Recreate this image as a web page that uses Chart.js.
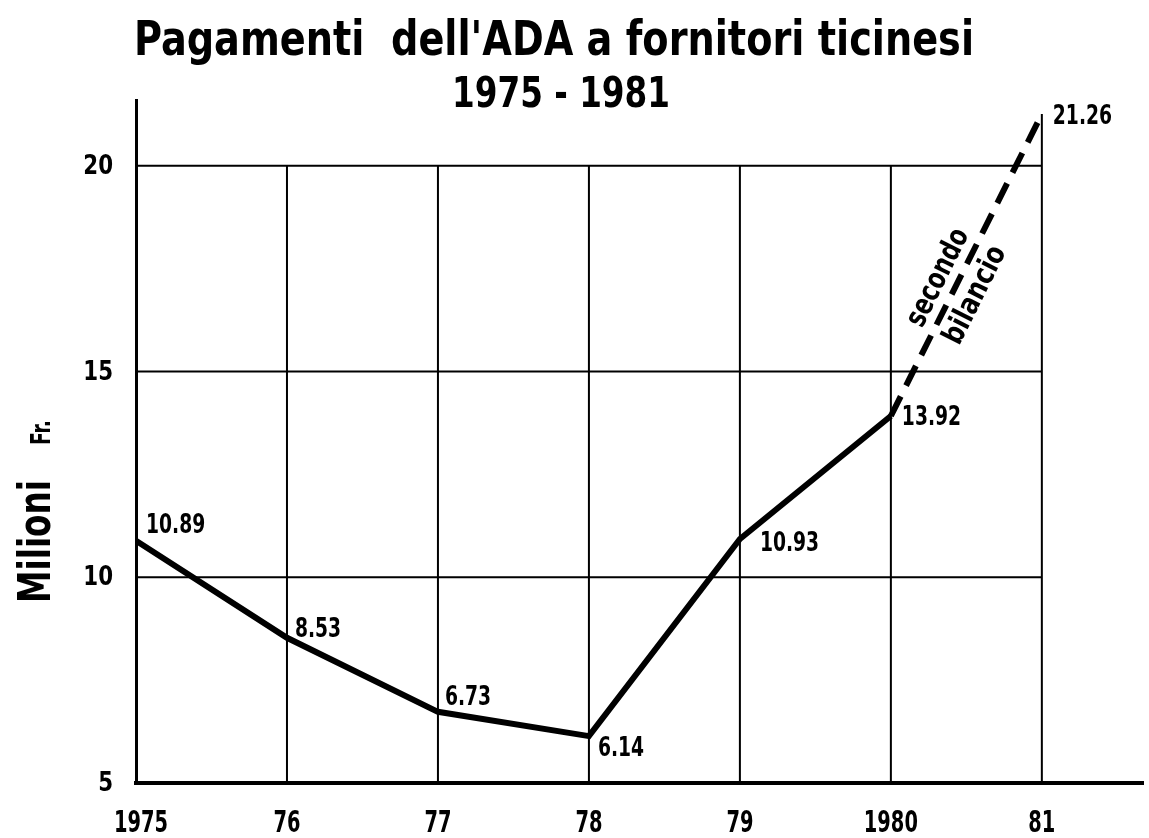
<!DOCTYPE html>
<html>
<head>
<meta charset="utf-8">
<script src="https://cdn.jsdelivr.net/npm/chart.js@4.4.1/dist/chart.umd.min.js"></script>
<style>
  html, body { margin: 0; padding: 0; background: #fff; }
  canvas { display: block; }
</style>
</head>
<body>
<canvas id="chart" width="1149" height="838"></canvas>
<script>
// data
const years = [1975, 1976, 1977, 1978, 1979, 1980];
const payments = [10.89, 8.53, 6.73, 6.14, 10.93, 13.92];
const budgetYears = [1980, 1981];
const budgetPayments = [13.92, 21.26];
const xTickValues = [1975, 1976, 1977, 1978, 1979, 1980, 1981];
const xTickLabels = ['1975', '76', '77', '78', '79', '1980', '81'];
const yTickValues = [5, 10, 15, 20];
const gridRows = [10, 15, 20];
const gridCols = [1976, 1977, 1978, 1979, 1980];

const FONT = '"DejaVu Sans Condensed", "DejaVu Sans", sans-serif';

// draw text squeezed to a given width
function fitText(ctx, text, x, y, size, width, align) {
  ctx.save();
  ctx.font = 'bold ' + size + 'px ' + FONT;
  const w = ctx.measureText(text).width;
  ctx.translate(x, y);
  ctx.scale(width / w, 1);
  ctx.textAlign = align || 'left';
  ctx.fillText(text, 0, 0);
  ctx.restore();
}

// draw text squeezed by a fixed factor
function narrowText(ctx, text, x, y, size, sx, align) {
  ctx.save();
  ctx.font = 'bold ' + size + 'px ' + FONT;
  ctx.translate(x, y);
  ctx.scale(sx, 1);
  ctx.textAlign = align || 'left';
  ctx.fillText(text, 0, 0);
  ctx.restore();
}

const gridPlugin = {
  id: 'grid',
  beforeDatasetsDraw(chart) {
    const { ctx, scales: { x, y } } = chart;
    ctx.save();
    ctx.strokeStyle = '#000';
    ctx.lineWidth = 2;
    ctx.beginPath();
    gridRows.forEach(v => {
      ctx.moveTo(x.getPixelForValue(1975), y.getPixelForValue(v));
      ctx.lineTo(x.getPixelForValue(1981), y.getPixelForValue(v));
    });
    gridCols.forEach(v => {
      ctx.moveTo(x.getPixelForValue(v), y.getPixelForValue(5));
      ctx.lineTo(x.getPixelForValue(v), y.getPixelForValue(20));
    });
    const last = budgetPayments[budgetPayments.length - 1];
    ctx.moveTo(x.getPixelForValue(1981), y.getPixelForValue(5));
    ctx.lineTo(x.getPixelForValue(1981), y.getPixelForValue(last));
    ctx.stroke();
    ctx.restore();
  }
};

const textPlugin = {
  id: 'texts',
  afterDraw(chart) {
    const { ctx, scales: { x, y } } = chart;
    ctx.save();
    ctx.fillStyle = '#000';
    ctx.textBaseline = 'alphabetic';

    // title
    fitText(ctx, "Pagamenti  dell'ADA a fornitori ticinesi", 554, 55, 48, 840, 'center');
    fitText(ctx, '1975 - 1981', 561, 107, 43, 218, 'center');

    // y axis title
    ctx.save();
    ctx.translate(50, 603);
    ctx.rotate(-Math.PI / 2);
    fitText(ctx, 'Milioni', 0, 0, 45, 123, 'left');
    fitText(ctx, 'Fr.', 158, 0, 27, 25, 'left');
    ctx.restore();

    // tick labels
    x.ticks.forEach((t, i) => {
      const px = x.getPixelForValue(t.value) + (i === 0 ? 5 : 0);
      narrowText(ctx, xTickLabels[i], px, 832, 30, 0.72, 'center');
    });
    y.ticks.forEach(t => {
      narrowText(ctx, String(t.value), 113, y.getPixelForValue(t.value) + 8, 27, 0.88, 'right');
    });

    // value labels
    const offs = [[10, -8], [8, -1], [7, -7], [9, 20], [20, 12], [11, 9]];
    const m0 = chart.getDatasetMeta(0);
    m0.data.forEach((p, i) => {
      narrowText(ctx, payments[i].toFixed(2), p.x + offs[i][0], p.y + offs[i][1], 26, 0.8, 'left');
    });
    const m1 = chart.getDatasetMeta(1);
    const pe = m1.data[1];
    narrowText(ctx, budgetPayments[1].toFixed(2), pe.x + 11, pe.y + 10, 26, 0.8, 'left');

    // "secondo bilancio" along the dashed segment
    const pa = m1.data[0];
    const ang = Math.atan2(pe.y - pa.y, pe.x - pa.x);
    ctx.translate((pa.x + pe.x) / 2, (pa.y + pe.y) / 2);
    ctx.rotate(ang);
    ctx.textBaseline = 'middle';
    fitText(ctx, 'secondo', -24, -19, 30, 106, 'center');
    fitText(ctx, 'bilancio', -23, 22, 30, 106, 'center');
    ctx.restore();
  }
};

new Chart(document.getElementById('chart'), {
  type: 'line',
  data: {
    datasets: [
      {
        data: years.map((yr, i) => ({ x: yr, y: payments[i] })),
        borderColor: '#000',
        borderWidth: 6,
        pointRadius: 0,
        fill: false
      },
      {
        data: budgetYears.map((yr, i) => ({ x: yr, y: budgetPayments[i] })),
        borderColor: '#000',
        borderWidth: 6,
        borderDash: [22, 12],
        borderCapStyle: 'butt',
        pointRadius: 0,
        fill: false
      }
    ]
  },
  options: {
    responsive: false,
    animation: false,
    layout: { padding: { top: 100, right: 6, left: 0, bottom: 0 } },
    plugins: { legend: { display: false }, tooltip: { enabled: false } },
    scales: {
      x: {
        type: 'linear',
        min: 1975,
        max: 1981.67,
        grid: { display: false },
        border: { display: true, color: '#000', width: 4 },
        afterBuildTicks: s => { s.ticks = xTickValues.map(v => ({ value: v })); },
        afterFit: s => { s.height = 55; },
        ticks: { display: false }
      },
      y: {
        min: 5,
        max: 21.6,
        grid: { display: false },
        border: { display: true, color: '#000', width: 3 },
        afterBuildTicks: s => { s.ticks = yTickValues.map(v => ({ value: v })); },
        afterFit: s => { s.width = 136; },
        ticks: { display: false }
      }
    }
  },
  plugins: [gridPlugin, textPlugin]
});
</script>
</body>
</html>
